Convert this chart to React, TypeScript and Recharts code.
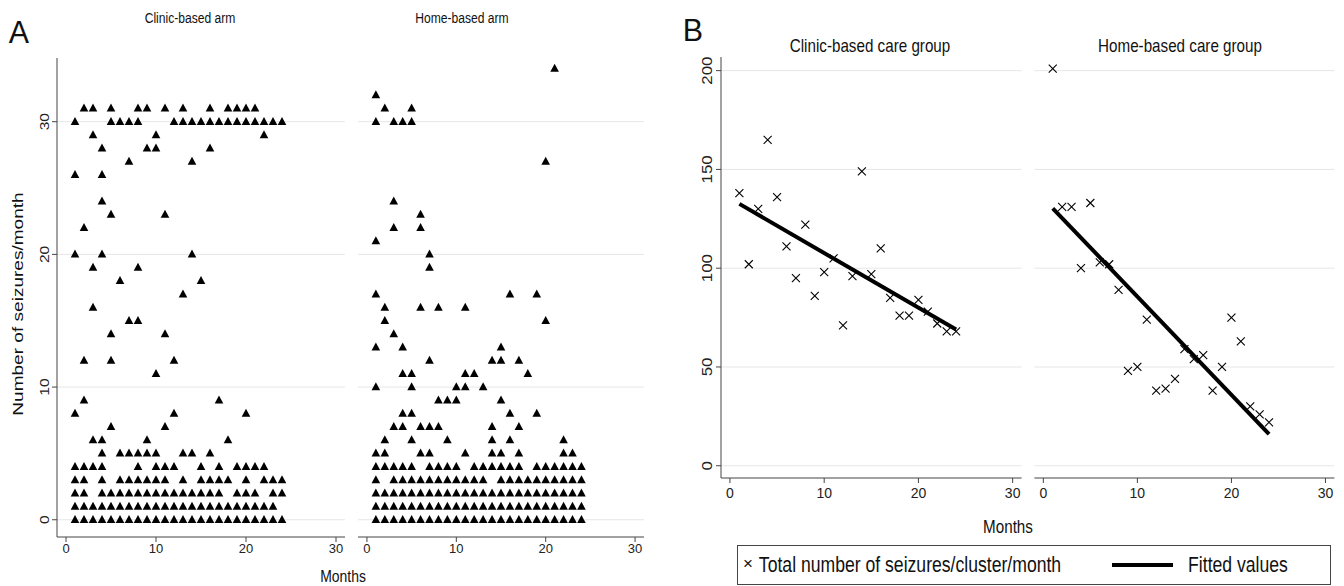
import React from 'react';
import { ScatterChart, Scatter, XAxis, YAxis, ReferenceLine } from 'recharts';

const FONT = '"Liberation Sans", Arial, Helvetica, sans-serif';
const INK = '#000';
const AXIS = '#444';
const GRID = '#e6e6e6';

// Panel A: [seizures per month, months where a patient had that count]
const clinicArmRows: [number, number[]][] = [
  [31, [2, 3, 5, 8, 9, 11, 13, 16, 18, 19, 20, 21]],
  [30, [1, 5, 6, 7, 8, 12, 13, 14, 15, 16, 17, 18, 19, 20, 21, 22, 23, 24]],
  [29, [3, 10, 22]],
  [28, [4, 9, 10, 16]],
  [27, [7, 14]],
  [26, [1, 4]],
  [24, [4]],
  [23, [5, 11]],
  [22, [2]],
  [20, [1, 4, 14]],
  [19, [3, 8]],
  [18, [6, 15]],
  [17, [13]],
  [16, [3]],
  [15, [7, 8]],
  [14, [5, 11]],
  [12, [2, 5, 12]],
  [11, [10]],
  [9, [2, 17]],
  [8, [1, 12, 20]],
  [7, [5, 11]],
  [6, [3, 4, 9, 18]],
  [5, [4, 6, 7, 8, 9, 10, 13, 14, 16]],
  [4, [1, 2, 3, 4, 8, 10, 11, 12, 15, 17, 19, 20, 21, 22]],
  [3, [1, 2, 4, 6, 7, 8, 9, 10, 11, 13, 15, 16, 17, 18, 20, 22, 23, 24]],
  [2, [1, 2, 4, 5, 6, 7, 8, 9, 10, 11, 12, 13, 14, 15, 16, 17, 19, 20, 21, 23, 24]],
  [1, [1, 2, 3, 4, 5, 6, 7, 8, 9, 10, 11, 12, 13, 14, 15, 16, 17, 18, 19, 20, 21, 22, 23]],
  [0, [1, 2, 3, 4, 5, 6, 7, 8, 9, 10, 11, 12, 13, 14, 15, 16, 17, 18, 19, 20, 21, 22, 23, 24]],
];

const homeArmRows: [number, number[]][] = [
  [34, [21]],
  [32, [1]],
  [31, [2, 5]],
  [30, [1, 3, 4, 5]],
  [27, [20]],
  [24, [3]],
  [23, [6]],
  [22, [3, 6]],
  [21, [1]],
  [20, [7]],
  [19, [7]],
  [17, [1, 16, 19]],
  [16, [2, 6, 8, 11]],
  [15, [2, 20]],
  [14, [3]],
  [13, [1, 4, 15]],
  [12, [7, 14, 15, 17]],
  [11, [4, 5, 11, 12, 18]],
  [10, [1, 5, 10, 11, 13]],
  [9, [8, 9, 10, 15]],
  [8, [4, 5, 16, 19]],
  [7, [3, 4, 6, 7, 8, 14, 17]],
  [6, [2, 5, 9, 14, 16, 22]],
  [5, [1, 2, 6, 7, 11, 14, 15, 17, 22, 23]],
  [4, [1, 2, 3, 4, 5, 7, 8, 9, 10, 12, 13, 14, 15, 16, 17, 19, 20, 21, 22, 23, 24]],
  [3, [1, 3, 4, 5, 6, 7, 8, 9, 10, 11, 12, 13, 15, 16, 17, 18, 19, 20, 21, 22, 23, 24]],
  [2, [1, 2, 3, 4, 5, 6, 7, 8, 9, 10, 11, 12, 13, 14, 15, 16, 17, 18, 19, 20, 21, 22, 23, 24]],
  [1, [1, 2, 3, 4, 5, 6, 7, 8, 9, 10, 11, 12, 13, 14, 15, 16, 17, 18, 19, 20, 21, 22, 23, 24]],
  [0, [1, 2, 3, 4, 5, 6, 7, 8, 9, 10, 11, 12, 13, 14, 15, 16, 17, 18, 19, 20, 21, 22, 23, 24]],
];

// Panel B: total seizures per cluster per month
const months = [1, 2, 3, 4, 5, 6, 7, 8, 9, 10, 11, 12, 13, 14, 15, 16, 17, 18, 19, 20, 21, 22, 23, 24];
const clinicTotals = [138, 102, 130, 165, 136, 111, 95, 122, 86, 98, 105, 71, 96, 149, 97, 110, 85, 76, 76, 84, 78, 72, 68, 68];
const homeTotals = [201, 131, 131, 100, 133, 103, 102, 89, 48, 50, 74, 38, 39, 44, 59, 54, 56, 38, 50, 75, 63, 30, 26, 22];

const monthTicks = [0, 10, 20, 30];
const armTicks = [0, 10, 20, 30];
const careTicks = [0, 50, 100, 150, 200];

const toPoints = (rows: [number, number[]][]) =>
  rows.flatMap(([count, ms]) => ms.map((m) => ({ x: m, y: count })));

const toSeries = (xs: number[], ys: number[]) => xs.map((x, i) => ({ x, y: ys[i] }));

// least squares line, drawn over the observed months
const fitLine = (xs: number[], ys: number[]) => {
  const n = xs.length;
  const mx = xs.reduce((a, b) => a + b, 0) / n;
  const my = ys.reduce((a, b) => a + b, 0) / n;
  let sxy = 0;
  let sxx = 0;
  xs.forEach((x, i) => {
    sxy += (x - mx) * (ys[i] - my);
    sxx += (x - mx) * (x - mx);
  });
  const b = sxy / sxx;
  const a = my - b * mx;
  const lo = Math.min(...xs);
  const hi = Math.max(...xs);
  return [{ x: lo, y: a + b * lo }, { x: hi, y: a + b * hi }];
};

const Triangle = (p: any) => {
  const { cx, cy } = p;
  if (typeof cx !== 'number') return <g />;
  return <path d={`M${cx} ${cy - 4.8}L${cx + 4.3} ${cy + 3.2}L${cx - 4.3} ${cy + 3.2}Z`} fill={INK} />;
};

const Cross = (p: any) => {
  const { cx, cy } = p;
  if (typeof cx !== 'number') return <g />;
  const r = 4;
  return (
    <path
      d={`M${cx - r} ${cy - r}L${cx + r} ${cy + r}M${cx - r} ${cy + r}L${cx + r} ${cy - r}`}
      stroke={INK}
      strokeWidth={1.1}
      fill="none"
    />
  );
};

const NoDot = () => <g />;

// rotated y tick, a little stretched along the text like the source figure
const VTick = (p: any) => {
  const { x, y, payload, fs } = p;
  return (
    <text
      transform={`translate(${x} ${y}) rotate(-90) scale(1.2 1)`}
      textAnchor="middle"
      fontSize={fs}
      fill="#222"
    >
      {payload.value}
    </text>
  );
};

const abs = (left: number, top: number): React.CSSProperties => ({ position: 'absolute', left, top });

const ArmPanel = ({ left, width, margin, showY, data }: any) => (
  <div style={abs(left, 0)}>
    <ScatterChart width={width} height={586} margin={margin}>
      <XAxis
        type="number"
        dataKey="x"
        domain={[-1, 31]}
        ticks={monthTicks}
        interval={0}
        allowDataOverflow
        height={49}
        stroke={AXIS}
        tickSize={5}
        tickMargin={2}
        tick={{ fontSize: 13, fill: '#222' }}
      />
      <YAxis
        type="number"
        dataKey="y"
        domain={[-1.3, 34.8]}
        ticks={armTicks}
        interval={0}
        allowDataOverflow
        width={showY ? 57 : 8}
        axisLine={showY ? { stroke: AXIS } : false}
        tickLine={showY ? { stroke: AXIS } : false}
        tickSize={5}
        tickMargin={3}
        tick={showY ? <VTick fs={13} /> : false}
      />
      {armTicks.map((t) => (
        <ReferenceLine key={t} y={t} stroke={GRID} strokeWidth={1} />
      ))}
      <Scatter data={data} shape={<Triangle />} isAnimationActive={false} />
    </ScatterChart>
  </div>
);

const CarePanel = ({ left, width, margin, showY, data, fit }: any) => (
  <div style={abs(left, 0)}>
    <ScatterChart width={width} height={586} margin={margin}>
      <XAxis
        type="number"
        dataKey="x"
        domain={[-0.95, 30.95]}
        ticks={monthTicks}
        interval={0}
        allowDataOverflow
        height={108}
        stroke={AXIS}
        tickSize={5}
        tickMargin={5}
        tick={{ fontSize: 14, fill: '#222' }}
      />
      <YAxis
        type="number"
        dataKey="y"
        domain={[-6.2, 206.9]}
        ticks={careTicks}
        interval={0}
        allowDataOverflow
        width={showY ? 61 : 9.4}
        axisLine={showY ? { stroke: AXIS } : false}
        tickLine={showY ? { stroke: AXIS } : false}
        tickSize={5}
        tickMargin={4}
        tick={showY ? <VTick fs={14} /> : false}
      />
      {careTicks.map((t) => (
        <ReferenceLine key={t} y={t} stroke={GRID} strokeWidth={1} />
      ))}
      <Scatter data={data} shape={<Cross />} isAnimationActive={false} />
      <Scatter
        data={fit}
        shape={<NoDot />}
        line={{ stroke: INK, strokeWidth: 4 }}
        isAnimationActive={false}
      />
    </ScatterChart>
  </div>
);

// text helper: the source figure's lettering is tall and narrow
const label = (
  text: string,
  x: number,
  y: number,
  size: number,
  squeeze = 0.8,
  rotate = 0
) => (
  <div
    style={{
      position: 'absolute',
      left: x,
      top: y,
      transform: `translate(-50%, -50%) rotate(${rotate}deg) scaleX(${squeeze})`,
      fontSize: size,
      lineHeight: 1,
      whiteSpace: 'nowrap',
      color: '#111',
    }}
  >
    {text}
  </div>
);

export default function App() {
  const clinicArm = toPoints(clinicArmRows);
  const homeArm = toPoints(homeArmRows);
  const clinicCare = toSeries(months, clinicTotals);
  const homeCare = toSeries(months, homeTotals);

  return (
    <div
      style={{
        position: 'absolute',
        left: 0,
        top: 0,
        width: 1344,
        height: 586,
        overflow: 'hidden',
        background: '#fff',
        fontFamily: FONT,
      }}
    >
      <ArmPanel left={0} width={350} margin={{ top: 58, right: 5, bottom: 0, left: 0 }} showY data={clinicArm} />
      <ArmPanel left={350} width={300} margin={{ top: 58, right: 6, bottom: 0, left: 0 }} data={homeArm} />
      <CarePanel
        left={660}
        width={365}
        margin={{ top: 57, right: 3.4, bottom: 0, left: 0 }}
        showY
        data={clinicCare}
        fit={fitLine(months, clinicTotals)}
      />
      <CarePanel
        left={1025}
        width={319}
        margin={{ top: 57, right: 9.6, bottom: 0, left: 0 }}
        data={homeCare}
        fit={fitLine(months, homeTotals)}
      />

      {label('A', 19, 32, 32, 0.95)}
      {label('B', 693, 30, 32, 0.95)}

      {label('Clinic-based arm', 190, 18, 15.5, 0.78)}
      {label('Home-based arm', 462, 18, 15.5, 0.78)}
      {label('Number of seizures/month', 17, 304, 15, 1.27, -90)}
      {label('Months', 343, 576, 17, 0.82)}

      {label('Clinic-based care group', 870, 45, 19, 0.8)}
      {label('Home-based care group', 1180, 45, 19, 0.8)}
      {label('Months', 1008, 526, 19, 0.8)}

      <div
        style={{
          position: 'absolute',
          left: 737,
          top: 545,
          width: 594,
          height: 40,
          border: `1px solid ${AXIS}`,
          boxSizing: 'border-box',
          color: '#111',
        }}
      >
        <span style={{ position: 'absolute', left: 5, top: 9, fontSize: 17, lineHeight: 1 }}>×</span>
        {label('Total number of seizures/cluster/month', 172, 19, 22, 0.8)}
        <span
          style={{ position: 'absolute', left: 374, top: 17, width: 61, height: 4, background: INK }}
        />
        {label('Fitted values', 500, 19, 22, 0.8)}
      </div>
    </div>
  );
}
